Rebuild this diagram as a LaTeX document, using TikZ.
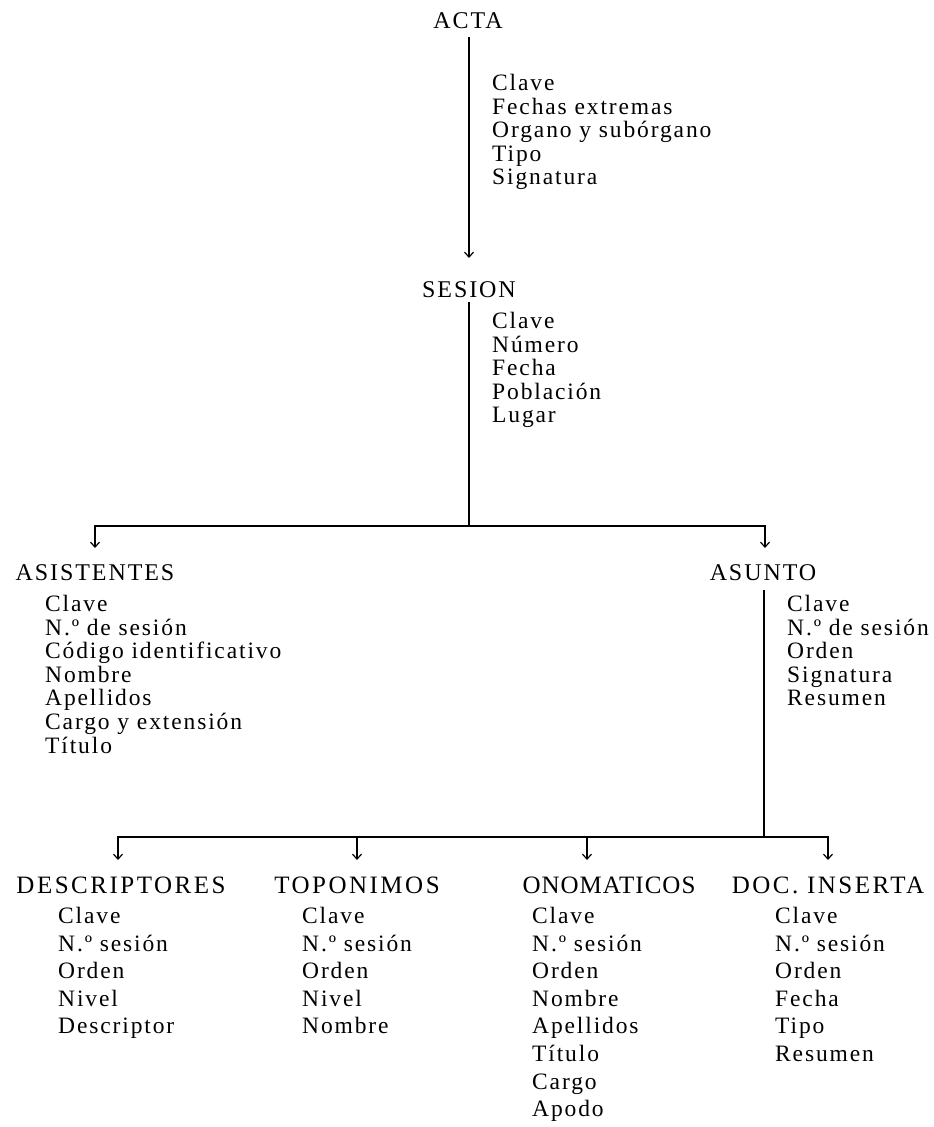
\documentclass[tikz,border=0pt]{standalone}
\usepackage{fontspec}
\setmainfont{Liberation Serif}[LetterSpace=8]
\newfontfamily\ttlfont{Liberation Serif}[LetterSpace=8]
\newfontfamily\ttlwide{Liberation Serif}[LetterSpace=10]
\newfontfamily\ttlnarrow{Liberation Serif}[LetterSpace=4]
\usetikzlibrary{arrows.meta}
\begin{document}
\begin{tikzpicture}[x=1pt,y=-1pt,
  ttlnode/.style={inner sep=0pt, font=\ttlfont\fontsize{24}{28}\selectfont},
  ttlbig/.style={inner sep=0pt, font=\ttlwide\fontsize{25}{28}\selectfont},
  lst/.style={inner sep=0pt, anchor=north west, align=left, font=\fontsize{23.5}{23.6}\selectfont},
  lstb/.style={lst, font=\fontsize{23.5}{27.6}\selectfont},
  conn/.style={line width=1.2pt},
  arr/.style={conn, -{Straight Barb[length=5pt,width=9pt]}}]
\useasboundingbox (0,0) rectangle (934,1127);
% level 1
\node[ttlnode] (acta) at (468,21) {ACTA};
\node[lst] (actal) at (492,74) {Clave\\Fechas extremas\\Organo y subórgano\\Tipo\\Signatura};
\coordinate (tSes) at (469,258);
\node[ttlnode] (sesion) at (469,290) {SESION};
\node[lst] (sesl) at (492,312) {Clave\\Número\\Fecha\\Población\\Lugar};
\coordinate (j1) at (469,526);
\coordinate (tAsis) at (95,548);
\coordinate (tAsun) at (765,548);
% level 2
\node[ttlnode] (asis) at (95,573) {ASISTENTES};
\node[lst] (asisl) at (45,595) {Clave\\N.º de sesión\\Código identificativo\\Nombre\\Apellidos\\Cargo y extensión\\Título};
\node[ttlnode] (asun) at (763,573) {ASUNTO};
\node[lst] (asunl) at (787,595) {Clave\\N.º de sesión\\Orden\\Signatura\\Resumen};
\coordinate (j2) at (764,837);
\coordinate (tDesc) at (118,860);
\coordinate (tTopo) at (357,860);
\coordinate (tOno) at (587,860);
\coordinate (tDoc) at (828,860);
% level 3
\node[ttlbig] (desc) at (121,885) {DESCRIPTORES};
\node[lstb] (descl) at (58,907) {Clave\\N.º sesión\\Orden\\Nivel\\Descriptor};
\node[ttlbig] (topo) at (357,885) {TOPONIMOS};
\node[lstb] (topol) at (302,907) {Clave\\N.º sesión\\Orden\\Nivel\\Nombre};
\node[ttlbig, font=\ttlnarrow\fontsize{25}{28}\selectfont] (ono) at (609,885) {ONOMATICOS};
\node[lstb] (onol) at (532,907) {Clave\\N.º sesión\\Orden\\Nombre\\Apellidos\\Título\\Cargo\\Apodo};
\node[ttlbig] (doc) at (828,885) {DOC. INSERTA};
\node[lstb] (docl) at (775,907) {Clave\\N.º sesión\\Orden\\Fecha\\Tipo\\Resumen};
% connectors
\draw[arr, shorten <=8pt] (acta.south -| tSes) -- (tSes);
\draw[conn, shorten <=4pt] (sesion) -- (j1);
\draw[arr] (j1) -| (tAsis);
\draw[arr] (j1) -| (tAsun);
\draw[conn, shorten <=9pt] (asun.south -| j2) -- (j2);
\draw[arr] (j2) -| (tDesc);
\draw[arr] (j2) -| (tTopo);
\draw[arr] (j2) -| (tOno);
\draw[arr] (j2) -| (tDoc);
\end{tikzpicture}
\end{document}
